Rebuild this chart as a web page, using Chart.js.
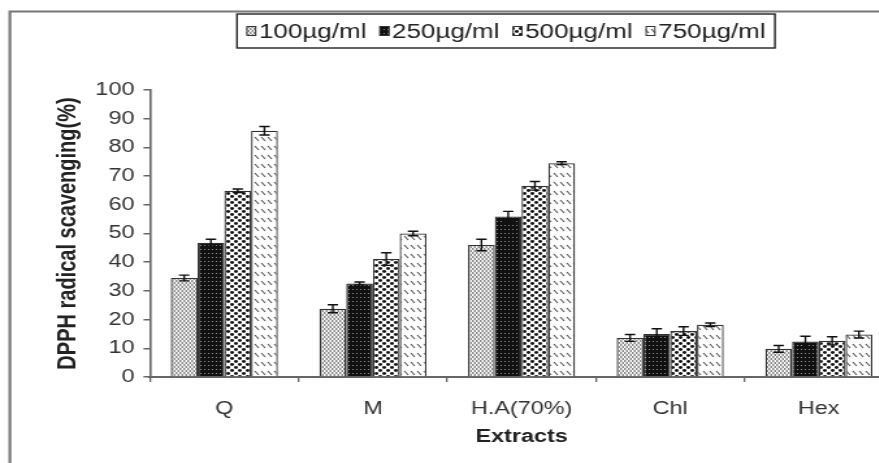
<!DOCTYPE html>
<html>
<head>
<meta charset="utf-8">
<script src="https://cdn.jsdelivr.net/npm/chart.js@4.4.1/dist/chart.umd.min.js"></script>
<style>
html,body{margin:0;padding:0;background:#fff;overflow:hidden;width:879px;height:463px;}
#wrap{position:absolute;left:0;top:0;width:700px;height:463px;transform:scaleX(1.3);transform-origin:0 0;}
</style>
</head>
<body>
<div id="wrap"><canvas id="c" width="700" height="463"></canvas></div>
<script>
// ---- data ----
const categories = ['Q', 'M', 'H.A(70%)', 'Chl', 'Hex'];
const seriesLabels = ['100\u00b5g/ml', '250\u00b5g/ml', '500\u00b5g/ml', '750\u00b5g/ml'];
const s100 = [34.5, 23.8, 46.0, 13.6, 9.8];
const s250 = [46.8, 32.6, 55.9, 15.0, 12.4];
const s500 = [64.9, 41.1, 66.6, 16.0, 12.6];
const s750 = [85.8, 50.0, 74.5, 18.2, 14.8];
const e100 = [1.0, 1.4, 2.0, 1.2, 1.2];
const e250 = [1.2, 0.5, 1.8, 1.8, 1.8];
const e500 = [0.6, 2.2, 1.5, 1.5, 1.4];
const e750 = [1.5, 0.8, 0.5, 0.6, 1.2];
const yTicks = [0, 10, 20, 30, 40, 50, 60, 70, 80, 90, 100];

const FONT = "'Liberation Sans', Arial, sans-serif";

function makePattern(kind) {
  const c = document.createElement('canvas');
  const x = c.getContext('2d');
  if (kind === 0) {
    c.width = 3; c.height = 4;
    x.fillStyle = '#fff'; x.fillRect(0, 0, 3, 4);
    x.fillStyle = '#8a8a8a';
    x.fillRect(0, 0, 1.5, 2); x.fillRect(1.5, 2, 1.5, 2);
  } else if (kind === 1) {
    c.width = 3; c.height = 4;
    x.fillStyle = '#111'; x.fillRect(0, 0, 3, 4);
    x.fillStyle = '#8f8f8f';
    x.fillRect(1, 1, 1, 1);
  } else if (kind === 2) {
    c.width = 6; c.height = 6;
    x.fillStyle = '#fff'; x.fillRect(0, 0, 6, 6);
    x.fillStyle = '#111';
    x.beginPath(); x.ellipse(1.5, 1.5, 1.5, 1.4, 0, 0, Math.PI * 2); x.fill();
    x.beginPath(); x.ellipse(4.5, 4.5, 1.5, 1.4, 0, 0, Math.PI * 2); x.fill();
  } else {
    c.width = 5; c.height = 9;
    x.fillStyle = '#fff'; x.fillRect(0, 0, 5, 9);
    x.strokeStyle = '#555'; x.lineWidth = 1.1;
    x.beginPath(); x.moveTo(1, 2); x.lineTo(4, 6); x.stroke();
  }
  return x.createPattern(c, 'repeat');
}

const seriesValues = [s100, s250, s500, s750];
const seriesErrors = [e100, e250, e500, e750];
const patterns = [0, 1, 2, 3].map(makePattern);

const datasets = seriesValues.map((vals, i) => ({
  label: seriesLabels[i],
  data: vals,
  errors: seriesErrors[i],
  backgroundColor: patterns[i],
  borderColor: '#333',
  borderWidth: 1.3,
  categoryPercentage: 0.72,
  barPercentage: 1.0
}));

const framePlugin = {
  id: 'frame',
  beforeDraw(chart) {
    const ctx = chart.ctx;
    ctx.save();
    ctx.fillStyle = '#fff';
    ctx.fillRect(0, 0, chart.width, chart.height);
    ctx.strokeStyle = '#777';
    ctx.lineWidth = 2.2;
    ctx.beginPath();
    ctx.moveTo(7.6, 463); ctx.lineTo(7.6, 11.5); ctx.lineTo(chart.width, 11.5);
    ctx.stroke();
    ctx.restore();
  }
};

const errorPlugin = {
  id: 'errbars',
  afterDatasetsDraw(chart) {
    const ctx = chart.ctx;
    const y = chart.scales.y;
    ctx.save();
    ctx.strokeStyle = '#111';
    ctx.lineWidth = 1.4;
    chart.data.datasets.forEach((ds, di) => {
      const meta = chart.getDatasetMeta(di);
      meta.data.forEach((bar, i) => {
        const v = ds.data[i], e = ds.errors[i];
        const x = bar.x;
        const yt = y.getPixelForValue(v + e);
        const yb = y.getPixelForValue(v - e);
        const cw = 4;
        ctx.beginPath();
        ctx.moveTo(x, yt); ctx.lineTo(x, yb);
        ctx.moveTo(x - cw, yt); ctx.lineTo(x + cw, yt);
        ctx.moveTo(x - cw, yb); ctx.lineTo(x + cw, yb);
        ctx.stroke();
      });
    });
    ctx.restore();
  }
};

const legendPlugin = {
  id: 'customLegend',
  afterDraw(chart) {
    const ctx = chart.ctx;
    ctx.save();
    const boxL = 182.3, boxT = 14, boxW = 413.8, boxH = 34;
    ctx.fillStyle = '#fff';
    ctx.fillRect(boxL, boxT, boxW, boxH);
    ctx.strokeStyle = '#222';
    ctx.lineWidth = 1.4;
    ctx.strokeRect(boxL, boxT, boxW, boxH);
    ctx.font = '20px ' + FONT;
    ctx.textBaseline = 'middle';
    const iconW = 7.7, iconH = 10, gapIcon = 2, gapItem = 10;
    const widths = chart.data.datasets.map(d => ctx.measureText(d.label).width);
    let total = 0;
    widths.forEach(w => total += iconW + gapIcon + w);
    total += gapItem * (widths.length - 1);
    let x = boxL + boxW / 2 - total / 2;
    const cy = boxT + boxH / 2;
    chart.data.datasets.forEach((d, i) => {
      ctx.fillStyle = d.backgroundColor;
      ctx.fillRect(x, cy - iconH / 2, iconW, iconH);
      ctx.strokeStyle = '#333';
      ctx.lineWidth = 1;
      ctx.strokeRect(x + 0.5, cy - iconH / 2 + 0.5, iconW - 1, iconH - 1);
      x += iconW + gapIcon;
      ctx.fillStyle = '#222';
      ctx.fillText(d.label, x, cy + 1);
      x += widths[i] + gapItem;
    });
    ctx.restore();
  }
};

new Chart(document.getElementById('c'), {
  type: 'bar',
  data: { labels: categories, datasets: datasets },
  options: {
    responsive: false,
    animation: false,
    layout: { padding: { top: 90, left: 40, right: 13, bottom: 8 } },
    plugins: { legend: { display: false }, tooltip: { enabled: false } },
    scales: {
      x: {
        grid: { display: true, drawOnChartArea: false, offset: true, tickLength: 5, color: '#666', lineWidth: 1.3 },
        border: { display: true, color: '#666', width: 2 },
        ticks: { font: { family: FONT, size: 18 }, color: '#333', padding: 16 },
        title: { display: true, text: 'Extracts', font: { family: FONT, size: 18, weight: 'bold' }, color: '#222', padding: { top: 4, bottom: 7 } },
        afterFit(s) { s.height = 78; }
      },
      y: {
        min: 0, max: 100,
        afterBuildTicks(s) { s.ticks = yTicks.map(v => ({ value: v })); },
        grid: { display: true, drawOnChartArea: false, tickLength: 5, color: '#666', lineWidth: 1.5 },
        border: { display: true, color: '#666', width: 1.6 },
        ticks: { font: { family: FONT, size: 18 }, color: '#333', padding: 7 },
        title: { display: true, text: 'DPPH radical scavenging(%)', font: { family: FONT, size: 20, weight: 'bold' }, color: '#222', padding: { top: 0, bottom: 2 } },
        afterFit(s) { s.width = 75.4; }
      }
    }
  },
  plugins: [framePlugin, errorPlugin, legendPlugin]
});
</script>
</body>
</html>
